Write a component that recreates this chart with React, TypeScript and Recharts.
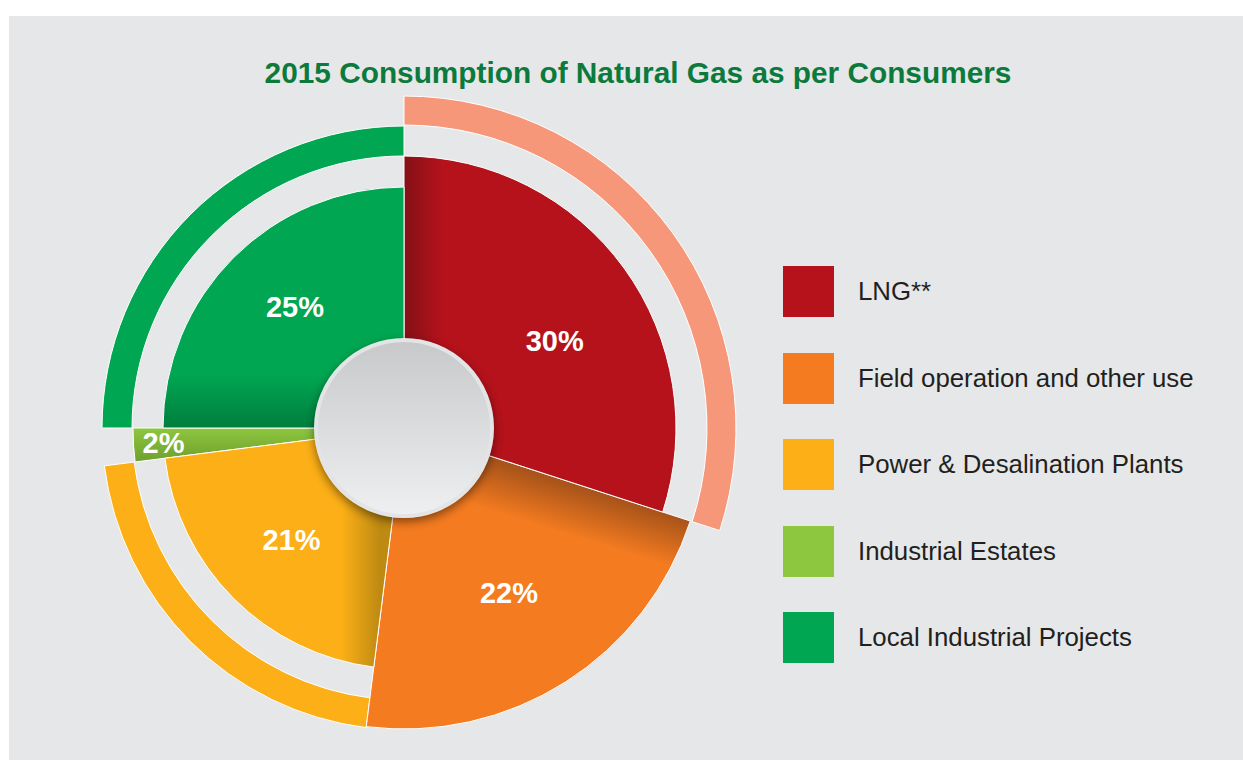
import React from 'react';
import { PieChart, Pie, Cell, Legend } from 'recharts';

const categories = [
  'LNG**',
  'Field operation and other use',
  'Power & Desalination Plants',
  'Industrial Estates',
  'Local Industrial Projects',
];
const shares = [30, 22, 21, 2, 25];

const data = categories.map((name, i) => ({ name, value: shares[i] }));

// styling per slice (same order as categories)
const colors = ['#b5121b', '#f47b20', '#fcaf17', '#8dc63f', '#00a651'];
const fills = ['url(#gLng)', 'url(#gField)', 'url(#gPower)', 'url(#gIe)', 'url(#gLocal)'];
const ringColors = ['#f7977a', null, '#fcaf17', null, '#00a651'];
const wedgeRadius = [272, 301, 241, 271, 241];
const ringRadius: ([number, number] | null)[] = [[303, 332], null, [272, 302], null, [272, 302]];
const labelRadius = [174, 196, 159, 241, 163];
const labelShift = [-6, 0, 0, 0, -3];

const CX = 395;
const CY = 412;
const RAD = Math.PI / 180;

// draw order: rings first, then wedges from largest to smallest
const wedgeOrder = categories.map((_, i) => i).sort((a, b) => wedgeRadius[b] - wedgeRadius[a]);
const ringOrder = categories.map((_, i) => i).filter((i) => ringRadius[i]);

const renderLabel = (props: any) => {
  const { cx, cy, midAngle, index } = props;
  const a = (midAngle + labelShift[index]) * RAD;
  const r = labelRadius[index];
  return (
    <text
      x={cx + r * Math.cos(-a)}
      y={cy + r * Math.sin(-a)}
      fill="#fff"
      textAnchor="middle"
      dominantBaseline="central"
      fontSize={29}
      fontWeight="bold"
      fontFamily="'Liberation Sans', Arial, Helvetica, sans-serif"
    >
      {`${shares[index]}%`}
    </text>
  );
};

const LegendBox = () => (
  <div style={{ fontFamily: "'Liberation Sans', Arial, Helvetica, sans-serif" }}>
    {categories.map((c, i) => (
      <div key={c} style={{ display: 'flex', alignItems: 'center', marginBottom: i < categories.length - 1 ? 35.5 : 0 }}>
        <div style={{ width: 51, height: 51, background: colors[i], marginRight: 24, flex: 'none' }} />
        <span style={{ fontSize: 25.8, color: '#231f20', whiteSpace: 'nowrap' }}>{c}</span>
      </div>
    ))}
  </div>
);

const commonPie = {
  data,
  dataKey: 'value',
  nameKey: 'name',
  cx: CX,
  cy: CY,
  startAngle: 90,
  endAngle: -270,
  isAnimationActive: false,
  labelLine: false,
};

export default function App() {
  return (
    <div
      style={{
        position: 'absolute',
        left: 9,
        top: 16,
        width: 1234,
        height: 744,
        background: '#e6e7e8',
        overflow: 'hidden',
      }}
    >
      <div
        style={{
          position: 'absolute',
          left: 629,
          top: 42,
          transform: 'translateX(-50%)',
          whiteSpace: 'nowrap',
          fontFamily: "'Liberation Sans', Arial, Helvetica, sans-serif",
          fontWeight: 'bold',
          fontSize: 29.8,
          lineHeight: 1,
          color: '#0b7a3c',
        }}
      >
        2015 Consumption of Natural Gas as per Consumers
      </div>
      <PieChart
        width={1234}
        height={744}
        margin={{ top: 0, right: 0, bottom: 0, left: 0 }}
        style={{ position: 'absolute', left: 0, top: 0 }}
      >
        <defs>
          <linearGradient id="gLng" x1="0" y1="0" x2="1" y2="0">
            <stop offset="0" stopColor="#841016" />
            <stop offset="0.14" stopColor="#b5121b" />
            <stop offset="1" stopColor="#b5121b" />
          </linearGradient>
          <linearGradient id="gField" x1="0.84" y1="0.26" x2="0.79" y2="0.41">
            <stop offset="0" stopColor="#a9541a" />
            <stop offset="1" stopColor="#f47b20" />
          </linearGradient>
          <linearGradient id="gPower" x1="0" y1="0" x2="1" y2="0">
            <stop offset="0" stopColor="#fcaf17" />
            <stop offset="0.74" stopColor="#fcaf17" />
            <stop offset="0.9" stopColor="#bd8a12" />
            <stop offset="1" stopColor="#bd8a12" />
          </linearGradient>
          <linearGradient id="gLocal" x1="0" y1="0" x2="0" y2="1">
            <stop offset="0" stopColor="#00a651" />
            <stop offset="0.78" stopColor="#00a651" />
            <stop offset="1" stopColor="#007e3e" />
          </linearGradient>
          <linearGradient id="gIe" x1="0" y1="0" x2="0" y2="1">
            <stop offset="0" stopColor="#8dc63f" />
            <stop offset="1" stopColor="#6f9f2e" />
          </linearGradient>
        </defs>
        {ringOrder.map((k) => (
          <Pie
            key={`ring-${k}`}
            {...commonPie}
            innerRadius={(ringRadius[k] as [number, number])[0]}
            outerRadius={(ringRadius[k] as [number, number])[1]}
          >
            {data.map((d, i) => (
              <Cell
                key={d.name}
                fill={i === k ? (ringColors[i] as string) : 'transparent'}
                stroke={i === k ? '#ffffff' : 'none'}
                strokeWidth={1}
              />
            ))}
          </Pie>
        ))}
        {wedgeOrder.map((k, n) => (
          <Pie
            key={`wedge-${k}`}
            {...commonPie}
            innerRadius={0}
            outerRadius={wedgeRadius[k]}
            label={n === wedgeOrder.length - 1 ? renderLabel : false}
          >
            {data.map((d, i) => (
              <Cell
                key={d.name}
                fill={i === k ? fills[i] : 'transparent'}
                stroke={i === k ? '#ffffff' : 'none'}
                strokeWidth={1}
              />
            ))}
          </Pie>
        ))}
        <Legend
          content={() => <LegendBox />}
          wrapperStyle={{ left: 774, top: 250, width: 460, bottom: 'auto', right: 'auto' }}
        />
      </PieChart>
      <div
        style={{
          position: 'absolute',
          left: CX - 90,
          top: CY - 90,
          width: 180,
          height: 180,
          boxSizing: 'border-box',
          borderRadius: '50%',
          border: '4px solid #e3e4e5',
          background: 'linear-gradient(#c8c9cb, #eeeff0)',
          boxShadow: '0 4px 10px rgba(0,0,0,0.45)',
        }}
      />
    </div>
  );
}
